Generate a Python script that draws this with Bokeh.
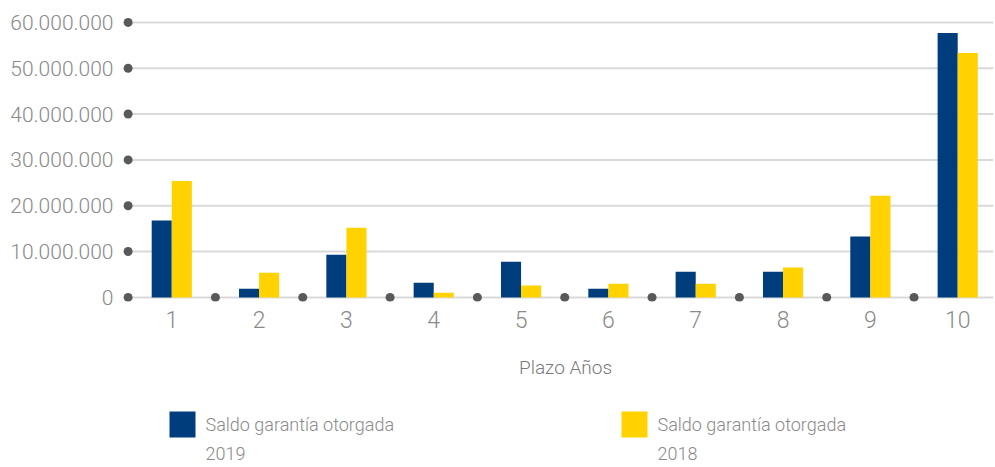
from bokeh.plotting import figure
from bokeh.layouts import column
from bokeh.models import Range1d, FixedTicker, ColumnDataSource
from bokeh.transform import dodge
from bokeh.core.properties import value
from bokeh.embed import file_html
from bokeh.resources import INLINE

# ---- data ----
plazo = [1, 2, 3, 4, 5, 6, 7, 8, 9, 10]
saldo_2019 = [16.8e6, 1.9e6, 9.3e6, 3.2e6, 7.8e6, 1.9e6, 5.6e6, 5.6e6, 13.3e6, 57.7e6]
saldo_2018 = [25.4e6, 5.4e6, 15.2e6, 1.0e6, 2.6e6, 3.0e6, 3.0e6, 6.5e6, 22.2e6, 53.3e6]
y_ticks = [0, 10e6, 20e6, 30e6, 40e6, 50e6, 60e6]
y_tick_labels = ["0", "10.000.000", "20.000.000", "30.000.000", "40.000.000", "50.000.000", "60.000.000"]
x_label = "Plazo Años"
series_line1 = ["Saldo garantía otorgada", "Saldo garantía otorgada"]
series_line2 = ["2019", "2018"]
series_colors = ["#003d7c", "#ffd200"]

FONT = "'Roboto Light', Roboto, sans-serif"
GREY_TXT = "#8a8a8a"
DOT = "#58595b"
GRID = "#d9d9d9"
BW = 0.23

W = 995
LEFT, RIGHT = 118, 2
TOP_H = 340
x_start, x_end = 0.39, 10.41

p = figure(width=W, height=TOP_H, output_backend="svg", toolbar_location=None,
           x_range=Range1d(x_start, x_end), y_range=Range1d(-0.9e6, 61.5e6),
           min_border_left=LEFT, min_border_right=RIGHT, min_border_top=15, min_border_bottom=39)
p.outline_line_color = None
p.xgrid.visible = False
p.ygrid.visible = False

# grid lines
p.segment(x0=[0.5] * len(y_ticks), x1=[x_end] * len(y_ticks), y0=y_ticks, y1=y_ticks,
          line_color=GRID, line_width=2)

src = ColumnDataSource(dict(x=plazo, a=saldo_2019, b=saldo_2018))
p.vbar(x=dodge("x", -BW / 2, range=p.x_range), top="a", bottom=0, width=BW, source=src,
       fill_color=series_colors[0], line_color=None)
p.vbar(x=dodge("x", BW / 2, range=p.x_range), top="b", bottom=0, width=BW, source=src,
       fill_color=series_colors[1], line_color=None)

# axis dots
p.scatter(x=[0.5] * len(y_ticks), y=y_ticks, size=9, fill_color=DOT, line_color=None)
mids = [v + 0.5 for v in plazo[:-1]]
p.scatter(x=mids, y=[0] * len(mids), size=9, fill_color=DOT, line_color=None)

# axes
for ax in (p.xaxis[0], p.yaxis[0]):
    ax.axis_line_color = None
    ax.major_tick_line_color = None
    ax.minor_tick_line_color = None
    ax.major_label_text_font = FONT
    ax.major_label_text_color = GREY_TXT
    ax.major_tick_out = 0
    ax.major_tick_in = 0

p.yaxis.ticker = FixedTicker(ticks=y_ticks)
p.yaxis.major_label_overrides = {v: l for v, l in zip(y_ticks, y_tick_labels)}
p.yaxis.major_label_text_font_size = "21px"
p.yaxis.major_label_standoff = 5

p.xaxis.ticker = FixedTicker(ticks=plazo)
p.xaxis.major_label_text_font_size = "23px"
p.xaxis.major_label_standoff = 9

# lower panel: axis title + legend (coordinates in page pixels)
lg = figure(width=W, height=467 - TOP_H, output_backend="svg", toolbar_location=None,
            x_range=Range1d(LEFT, W - RIGHT), y_range=Range1d(467, TOP_H),
            min_border_left=LEFT, min_border_right=RIGHT, min_border_top=0, min_border_bottom=0)
lg.axis.visible = False
lg.grid.visible = False
lg.outline_line_color = None

lg.text(x=[565], y=[367], text=[x_label], text_font=value(FONT), text_font_size="19px",
        text_color="#7a7a7a", text_align="center", text_baseline="middle")

sq_x = [182, 634]
lg.rect(x=sq_x, y=[424, 424], width=26, height=26, fill_color=series_colors, line_color=None)
lg.text(x=[v + 23 for v in sq_x], y=[424, 424], text=series_line1, text_font=value(FONT),
        text_font_size="18px", text_color=GREY_TXT, text_baseline="middle")
lg.text(x=[v + 23 for v in sq_x], y=[453, 453], text=series_line2, text_font=value(FONT),
        text_font_size="18px", text_color=GREY_TXT, text_baseline="middle")

layout = column(p, lg, spacing=0)
open("out.html", "w").write(file_html(layout, INLINE))
